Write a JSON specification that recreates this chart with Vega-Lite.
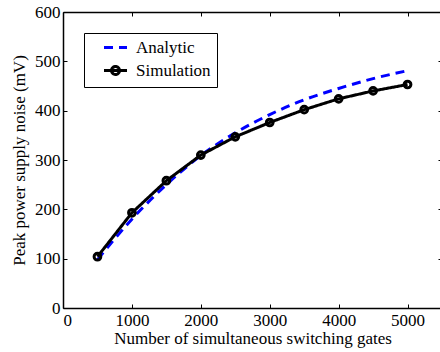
{
  "$schema": "https://vega.github.io/schema/vega-lite/v6.json",
  "width": 379,
  "height": 296,
  "autosize": "none",
  "padding": {"left": 63, "top": 12, "right": 0, "bottom": 44},
  "background": "white",
  "config": {
    "font": "Liberation Serif",
    "view": {"stroke": null},
    "axis": {
      "grid": false,
      "domainColor": "black",
      "domainWidth": 1.5,
      "tickColor": "black",
      "tickWidth": 1,
      "tickSize": -4,
      "labelFont": "Liberation Serif",
      "labelFontSize": 17,
      "labelColor": "black",
      "titleFont": "Liberation Serif",
      "titleFontSize": 17,
      "titleFontWeight": "normal",
      "titleColor": "black"
    }
  },
  "data": {
    "values": [
      {"gates": 500, "noise": 98, "series": "Analytic"},
      {"gates": 1000, "noise": 180, "series": "Analytic"},
      {"gates": 1500, "noise": 250, "series": "Analytic"},
      {"gates": 2000, "noise": 309, "series": "Analytic"},
      {"gates": 2500, "noise": 355, "series": "Analytic"},
      {"gates": 3000, "noise": 392, "series": "Analytic"},
      {"gates": 3500, "noise": 422, "series": "Analytic"},
      {"gates": 4000, "noise": 445, "series": "Analytic"},
      {"gates": 4500, "noise": 465, "series": "Analytic"},
      {"gates": 5000, "noise": 481, "series": "Analytic"},
      {"gates": 500, "noise": 104, "series": "Simulation"},
      {"gates": 1000, "noise": 193, "series": "Simulation"},
      {"gates": 1500, "noise": 258, "series": "Simulation"},
      {"gates": 2000, "noise": 310, "series": "Simulation"},
      {"gates": 2500, "noise": 347, "series": "Simulation"},
      {"gates": 3000, "noise": 376, "series": "Simulation"},
      {"gates": 3500, "noise": 402, "series": "Simulation"},
      {"gates": 4000, "noise": 424, "series": "Simulation"},
      {"gates": 4500, "noise": 440, "series": "Simulation"},
      {"gates": 5000, "noise": 453, "series": "Simulation"}
    ]
  },
  "layer": [
    {
      "transform": [{"filter": "datum.series === 'Analytic'"}],
      "mark": {"type": "line", "strokeWidth": 3, "interpolate": "monotone"},
      "encoding": {
        "x": {"field": "gates", "type": "quantitative", "scale": {"domain": [0, 5500], "nice": false},
              "axis": {"orient": "bottom", "values": [0, 1000, 2000, 3000, 4000, 5000], "title": "Number of simultaneous switching gates", "labelPadding": 8, "titlePadding": 2, "format": "d"}},
        "y": {"field": "noise", "type": "quantitative", "scale": {"domain": [0, 600], "nice": false},
              "axis": {"orient": "left", "values": [0, 100, 200, 300, 400, 500, 600], "title": "Peak power supply noise (mV)", "labelPadding": 7, "titlePadding": 6}},
        "color": {"field": "series", "type": "nominal", "scale": {"domain": ["Analytic", "Simulation"], "range": ["#0000ff", "#000000"]},
                  "legend": {"orient": "none", "legendX": 21, "legendY": 21, "title": null, "strokeColor": "black", "fillColor": "white", "padding": 6,
                             "labelFontSize": 17, "labelFont": "Liberation Serif", "labelColor": "black", "symbolSize": 100, "symbolStrokeWidth": 3, "rowPadding": 4, "labelOffset": 12, "symbolOffset": 17,
                             "encode": {"symbols": {"update": {"shape": {"signal": "datum.value === 'Simulation' ? 'M-2.3,0H2.3M0.8,0A0.8,0.8,0,1,1,-0.8,0A0.8,0.8,0,1,1,0.8,0' : 'M-2.3,0H2.3'"}, "fill": {"value": "transparent"}}}}}},
        "strokeDash": {"field": "series", "type": "nominal", "scale": {"domain": ["Analytic", "Simulation"], "range": [[9, 6], [1, 0]]}}
      }
    },
    {
      "transform": [{"filter": "datum.series === 'Simulation'"}],
      "mark": {"type": "line", "strokeWidth": 3},
      "encoding": {
        "x": {"field": "gates", "type": "quantitative", "axis": null},
        "y": {"field": "noise", "type": "quantitative", "axis": null},
        "color": {"field": "series", "type": "nominal"},
        "strokeDash": {"field": "series", "type": "nominal"}
      }
    },
    {
      "transform": [{"filter": "datum.series === 'Simulation'"}],
      "mark": {"type": "point", "shape": "circle", "filled": false, "stroke": "black", "strokeWidth": 3, "size": 45, "opacity": 1},
      "encoding": {
        "x": {"field": "gates", "type": "quantitative", "axis": {"orient": "top", "values": [0, 1000, 2000, 3000, 4000, 5000], "labels": false, "title": null}},
        "y": {"field": "noise", "type": "quantitative", "axis": {"orient": "right", "values": [0, 100, 200, 300, 400, 500, 600], "labels": false, "title": null}}
      }
    }
  ],
  "resolve": {"axis": {"x": "independent", "y": "independent"}}
}
